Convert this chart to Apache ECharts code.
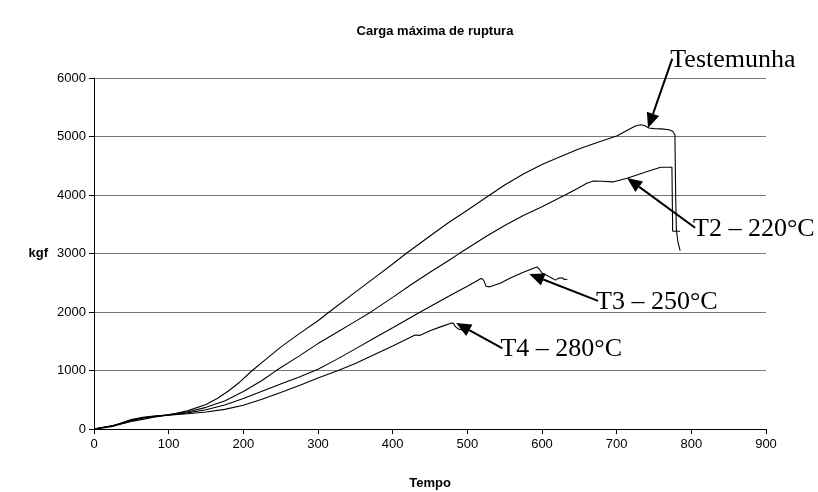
<!DOCTYPE html>
<html>
<head>
<meta charset="utf-8">
<title>Carga máxima de ruptura</title>
<script src="https://cdn.jsdelivr.net/npm/echarts@6/dist/echarts.min.js"></script>
<style>
  html, body { margin: 0; padding: 0; background: #fff; }
  #chart { width: 818px; height: 492px; }
</style>
</head>
<body>
<div id="chart"></div>
<script>
// tempo x carga (kgf)
var testemunha = [[0,0],[10,20],[25,60],[40,100],[50,130],[65,165],[80,200],[100,240],[125,310],[150,420],[165,520],[180,650],[195,800],[212,1000],[230,1190],[250,1400],[275,1630],[300,1850],[315,2000],[350,2340],[375,2580],[400,2820],[418,3000],[450,3300],[475,3530],[500,3740],[530,4000],[550,4170],[575,4360],[600,4520],[625,4660],[650,4790],[675,4900],[700,5010],[715,5110],[725,5180],[732,5200],[738,5185],[743,5145],[750,5135],[760,5130],[770,5115],[775,5090],[778,5030],[779,4000],[780,3400],[782,3200],[785,3050]]
var t2 = [[0,0],[10,25],[25,55],[40,110],[50,150],[65,190],[80,215],[100,245],[125,290],[150,370],[175,480],[200,640],[225,830],[243,990],[275,1250],[300,1460],[325,1650],[350,1840],[372,2010],[400,2250],[425,2470],[450,2680],[475,2880],[488,2990],[525,3290],[550,3480],[575,3650],[600,3800],[631,4000],[650,4130],[660,4200],[669,4240],[680,4235],[696,4225],[714,4285],[741,4400],[759,4475],[774,4475],[775,3380],[785,3380]]
var t3 = [[0,0],[10,20],[25,50],[40,120],[50,160],[65,200],[80,220],[100,240],[125,275],[150,330],[175,410],[200,520],[225,645],[250,770],[275,890],[300,1020],[325,1190],[350,1370],[375,1550],[400,1730],[437,2000],[475,2270],[500,2440],[519,2576],[522,2540],[525,2440],[530,2430],[544,2490],[557,2576],[575,2680],[593,2769],[596,2740],[600,2667],[606,2630],[613,2580],[618,2545],[622,2575],[627,2585],[630,2555],[634,2560]]
var t4 = [[0,0],[10,15],[25,45],[40,100],[50,140],[65,185],[80,215],[100,235],[125,260],[150,290],[175,335],[200,405],[225,510],[250,625],[275,745],[300,870],[327,1000],[350,1120],[375,1270],[400,1420],[430,1607],[432,1585],[436,1600],[450,1680],[465,1750],[477,1805],[481,1812],[484,1750],[488,1710],[494,1690]]

var seriesNames = ['Testemunha', 'T2 – 220°C', 'T3 – 250°C', 'T4 – 280°C']
// setas das anotações: ponta (na curva) e cauda (junto ao texto), em unidades do gráfico
var arrowTips = [[742, 5145], [714, 4291], [583, 2650], [485, 1812]]
var arrowTails = [[774.5, 6330], [805, 3440], [675, 2190], [547, 1380]]

var myChart = echarts.init(document.getElementById('chart'))

function lineSerie (name, data) {
  return {
    name: name,
    type: 'line',
    data: data,
    showSymbol: false,
    symbol: 'none',
    silent: true,
    lineStyle: { color: '#000', width: 1.1 }
  }
}

var axisFont = { fontFamily: 'Liberation Sans', fontSize: 13, color: '#000' }
var nameFont = { fontFamily: 'Liberation Sans', fontSize: 13, fontWeight: 'bold', color: '#000' }

myChart.setOption({
  animation: false,
  backgroundColor: '#fff',
  title: {
    text: 'Carga máxima de ruptura',
    left: 430,
    top: 20,
    textAlign: 'center',
    textStyle: { fontFamily: 'Liberation Sans', fontSize: 13, fontWeight: 'bold', color: '#000' }
  },
  grid: { left: 94, right: 52, top: 78, bottom: 63, outerBoundsMode: 'none' },
  xAxis: {
    type: 'value',
    min: 0,
    max: 900,
    interval: 100,
    name: 'Tempo',
    nameLocation: 'middle',
    nameGap: 48,
    nameTextStyle: nameFont,
    axisLine: { lineStyle: { color: '#000', width: 1 } },
    axisTick: { show: true, length: 5, lineStyle: { color: '#000' } },
    axisLabel: Object.assign({ margin: 9, formatter: '{value}' }, axisFont),
    splitLine: { show: false }
  },
  yAxis: {
    type: 'value',
    min: 0,
    max: 6000,
    interval: 1000,
    name: 'kgf',
    nameLocation: 'middle',
    nameRotate: 0,
    nameGap: 46,
    nameTextStyle: nameFont,
    axisLine: { show: true, lineStyle: { color: '#000', width: 1 } },
    axisTick: { show: true, length: 5, lineStyle: { color: '#000' } },
    axisLabel: Object.assign({ margin: 8, formatter: function (v) { return String(v) } }, axisFont),
    splitLine: { show: true, lineStyle: { color: '#777', width: 1 } }
  },
  series: [
    lineSerie(seriesNames[0], testemunha),
    lineSerie(seriesNames[1], t2),
    lineSerie(seriesNames[2], t3),
    lineSerie(seriesNames[3], t4)
  ]
})

// anotações com seta
var graphics = []
seriesNames.forEach(function (label, i) {
  var tip = myChart.convertToPixel({ gridIndex: 0 }, arrowTips[i])
  var tail = myChart.convertToPixel({ gridIndex: 0 }, arrowTails[i])
  var dx = tip[0] - tail[0]
  var dy = tip[1] - tail[1]
  var len = Math.sqrt(dx * dx + dy * dy)
  var ux = dx / len
  var uy = dy / len
  var headLen = 15
  var headHalf = 6.5
  var bx = tip[0] - ux * headLen
  var by = tip[1] - uy * headLen
  graphics.push({
    type: 'line',
    silent: true,
    shape: { x1: tail[0], y1: tail[1], x2: bx, y2: by },
    style: { stroke: '#000', lineWidth: 2 }
  })
  graphics.push({
    type: 'polygon',
    silent: true,
    shape: { points: [tip, [bx - uy * headHalf, by + ux * headHalf], [bx + uy * headHalf, by - ux * headHalf]] },
    style: { fill: '#000' }
  })
  graphics.push({
    type: 'text',
    silent: true,
    x: tail[0] - 2,
    y: tail[1] + 1,
    style: {
      text: label,
      font: '26px "Liberation Serif"',
      fill: '#000',
      align: 'left',
      verticalAlign: 'middle'
    }
  })
})
myChart.setOption({ graphic: graphics })
</script>
</body>
</html>
